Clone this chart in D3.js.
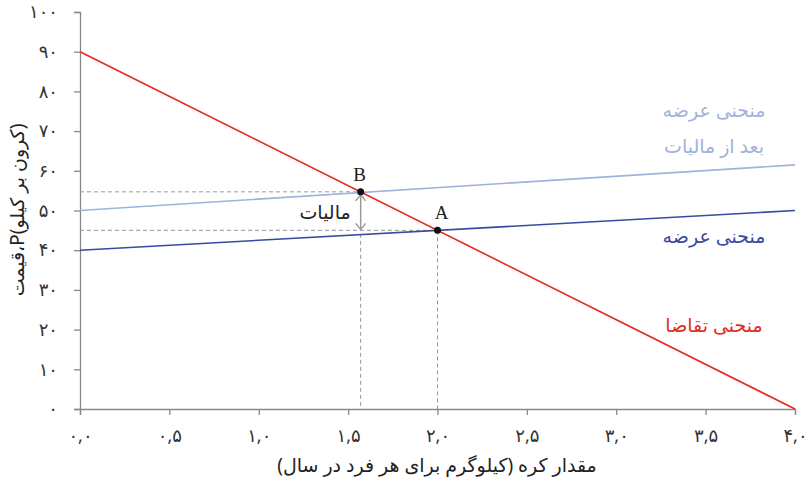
<!DOCTYPE html>
<html>
<head>
<meta charset="utf-8">
<script src="https://cdn.jsdelivr.net/npm/d3@7"></script>
<style>
  body { margin: 0; background: #fff; }
  text { font-family: "Noto Sans", "DejaVu Sans", sans-serif; }
</style>
</head>
<body>
<svg id="chart" width="810" height="479"></svg>
<script>
// Data
var xTicks = [0, 0.5, 1, 1.5, 2, 2.5, 3, 3.5, 4];
var yTicks = [0, 10, 20, 30, 40, 50, 60, 70, 80, 90, 100];
var demand = [{q: 0, p: 90}, {q: 4, p: 0}];
var supply = [{q: 0, p: 40}, {q: 4, p: 50}];
var supplyTax = [{q: 0, p: 50}, {q: 4, p: 61.5}];
var pointA = {q: 2, p: 45, label: "A"};
var pointB = {q: 1.57, p: 54.7, label: "B"};

var red = "#e32b1e", blue = "#3949a0", light = "#9fb2dd", grey = "#888";

function fa(s) { return String(s).replace(/[0-9]/g, function(d) { return "۰۱۲۳۴۵۶۷۸۹"[+d]; }); }

var svg = d3.select("#chart");
var x = d3.scaleLinear().domain([0, 4]).range([80, 795]);
var y = d3.scaleLinear().domain([0, 100]).range([409, 12]);

// axes
var xAxis = svg.append("g").attr("transform", "translate(0," + y(0) + ")")
    .call(d3.axisBottom(x).tickValues(xTicks).tickSize(6).tickPadding(14)
      .tickFormat(function(d) { return fa(d.toFixed(1)).replace(".", ","); }));
var yAxis = svg.append("g").attr("transform", "translate(" + x(0) + ",0)")
    .call(d3.axisLeft(y).tickValues(yTicks).tickSize(6).tickPadding(16)
      .tickFormat(function(d) { return fa(d); }));
[xAxis, yAxis].forEach(function(g) {
  g.select(".domain").attr("stroke", grey).attr("stroke-width", 1.3);
  g.selectAll(".tick line").attr("stroke", grey).attr("stroke-width", 1.3);
  g.selectAll(".tick text").attr("fill", "#333").style("font-size", "18px");
});

// dashed guides
var dash = svg.append("g").attr("stroke", "#999").attr("stroke-dasharray", "4,3").attr("stroke-width", 1);
[pointA, pointB].forEach(function(pt) {
  dash.append("line").attr("x1", x(0)).attr("x2", x(pt.q)).attr("y1", y(pt.p)).attr("y2", y(pt.p));
  dash.append("line").attr("x1", x(pt.q)).attr("x2", x(pt.q)).attr("y1", y(pt.p)).attr("y2", y(0));
});

// lines
var line = d3.line().x(function(d) { return x(d.q); }).y(function(d) { return y(d.p); });
svg.append("path").datum(supplyTax).attr("d", line).attr("fill", "none").attr("stroke", light).attr("stroke-width", 1.6);
svg.append("path").datum(supply).attr("d", line).attr("fill", "none").attr("stroke", blue).attr("stroke-width", 1.6);
svg.append("path").datum(demand).attr("d", line).attr("fill", "none").attr("stroke", red).attr("stroke-width", 1.6);

// tax arrow
var ax = x(pointB.q), ay1 = y(pointB.p) + 3, ay2 = y(pointA.p) - 1;
var arr = svg.append("g").attr("stroke", "#999").attr("stroke-width", 1.4).attr("fill", "none");
arr.append("line").attr("x1", ax).attr("x2", ax).attr("y1", ay1).attr("y2", ay2);
arr.append("path").attr("d", "M" + (ax - 5) + "," + (ay1 + 6) + "L" + ax + "," + ay1 + "L" + (ax + 5) + "," + (ay1 + 6));
arr.append("path").attr("d", "M" + (ax - 5) + "," + (ay2 - 6) + "L" + ax + "," + ay2 + "L" + (ax + 5) + "," + (ay2 - 6));
svg.append("text").attr("x", ax - 10).attr("y", (ay1 + ay2) / 2 + 7).attr("text-anchor", "start")
  .attr("direction", "rtl").attr("fill", "#222").style("font-size", "19px").text("مالیات");

// points
[pointA, pointB].forEach(function(pt) {
  svg.append("circle").attr("cx", x(pt.q)).attr("cy", y(pt.p)).attr("r", 3.5).attr("fill", "#111");
  svg.append("text").attr("x", x(pt.q) + (pt.label == "A" ? 4 : -1)).attr("y", y(pt.p) - 11)
    .attr("text-anchor", "middle").attr("fill", "#222").style("font-family", "Liberation Serif, serif")
    .style("font-size", "19px").text(pt.label);
});

// curve labels
function lab(txt, yy, col) {
  svg.append("text").attr("x", 714).attr("y", yy).attr("text-anchor", "middle").attr("direction", "rtl")
    .attr("fill", col).style("font-size", "19px").text(txt);
}
lab("منحنی عرضه", 117, light);
lab("بعد از مالیات", 153, light);
lab("منحنی عرضه", 243, blue);
lab("منحنی تقاضا", 332, red);

// axis titles
svg.append("text").attr("x", 437).attr("y", 472).attr("text-anchor", "middle").attr("direction", "rtl")
  .attr("fill", "#222").style("font-size", "19px").text("مقدار کره (کیلوگرم برای هر فرد در سال)");
svg.append("text").attr("transform", "translate(24,210) rotate(-90)").attr("text-anchor", "middle")
  .attr("direction", "ltr").attr("fill", "#222").style("font-size", "19px").text("قیمت،P(کرون بر کیلو)");
</script>
</body>
</html>
